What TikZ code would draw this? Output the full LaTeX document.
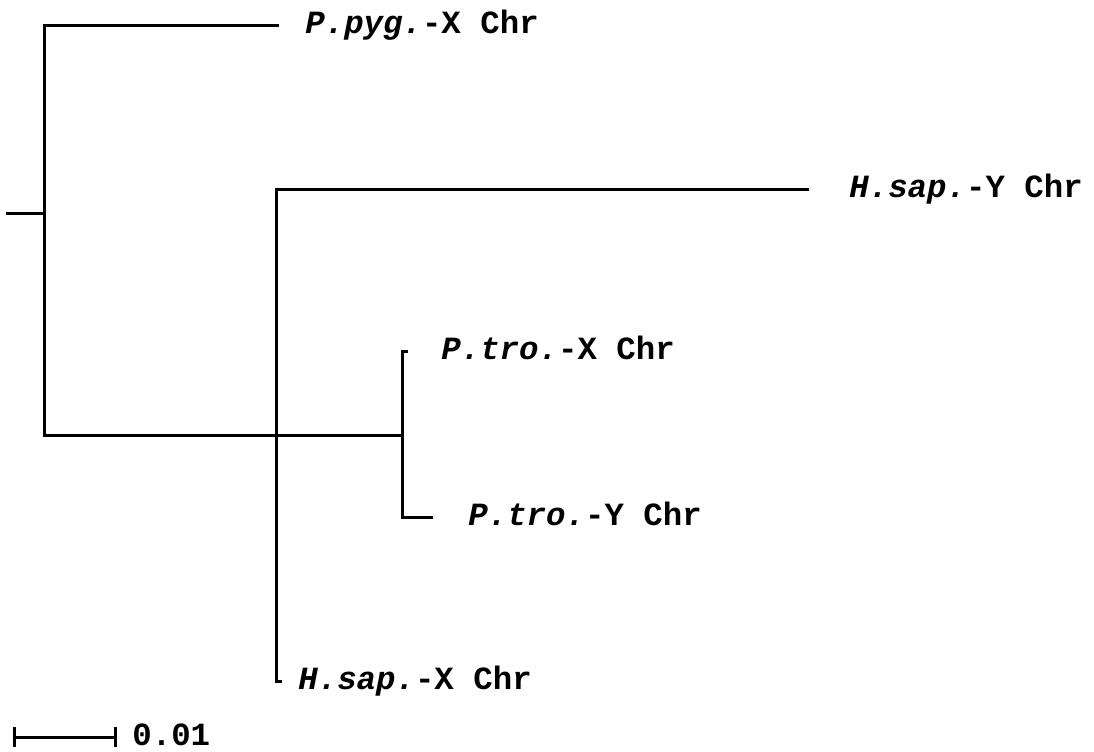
\documentclass[tikz,border=0pt]{standalone}
\usepackage{fontspec}
\setmonofont{Liberation Mono}
\begin{document}
\begin{tikzpicture}[x=0.5pt,y=-0.5pt,
  branch/.style={line width=1.5pt,line cap=rect},
  leaf/.style={anchor=base west,inner sep=0pt,font=\ttfamily\bfseries\fontsize{16.2}{18}\selectfont}]
\useasboundingbox (0,0) rectangle (1094,751);
% internal coordinates
\coordinate (r0) at (7,213);
\coordinate (root) at (44,213);
\coordinate (rtop) at (44,25);
\coordinate (rbot) at (44,435);
\coordinate (pyg) at (277,25);
\coordinate (ptn) at (402,435);
\coordinate (ptx) at (402,351);
\coordinate (ptxe) at (406,351);
\coordinate (pty) at (402,517);
\coordinate (ptye) at (431,517);
\coordinate (hs) at (276,189);
\coordinate (hsy) at (807,189);
\coordinate (hsb) at (276,681);
\coordinate (hsx) at (280,681);
% labels
\node[leaf] (Lpyg) at (305,33.5) {\itshape P.pyg.\upshape-X Chr};
\node[leaf] (Lhsy) at (849,197.5) {\itshape H.sap.\upshape-Y Chr};
\node[leaf] (Lptx) at (441,359.5) {\itshape P.tro.\upshape-X Chr};
\node[leaf] (Lpty) at (468,525.5) {\itshape P.tro.\upshape-Y Chr};
\node[leaf] (Lhsx) at (298,689.5) {\itshape H.sap.\upshape-X Chr};
% tree
\draw[branch] (r0) -- (root);
\draw[branch] (pyg) -- (rtop) -- (rbot) -- (ptn);
\draw[branch] (ptxe) -- (ptx) -- (pty) -- (ptye);
\draw[branch] (hsy) -- (hs) -- (hsb) -- (hsx);
% scale bar
\coordinate (sb1) at (14,737);
\coordinate (sb2) at (115,737);
\draw[branch,line cap=butt] (sb1) -- (sb2);
\draw[line width=1.5pt] ([yshift=5pt]sb1) -- ([yshift=-5pt]sb1);
\draw[line width=1.5pt] ([yshift=5pt]sb2) -- ([yshift=-5pt]sb2);
\node[leaf] (Lsb) at (132,745.5) {0.01};
\end{tikzpicture}
\end{document}
